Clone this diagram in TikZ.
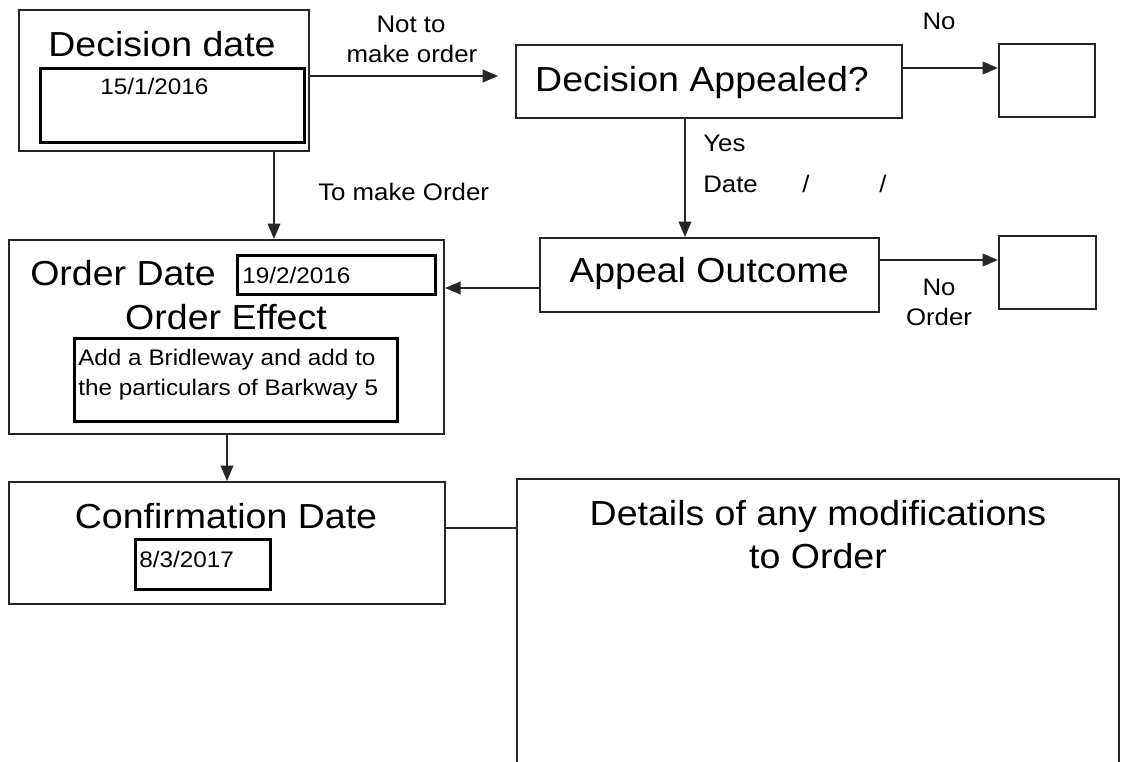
\documentclass[tikz,border=0pt]{standalone}
\usepackage{fontspec}
\setmainfont{Liberation Sans}[FakeStretch=1.08]
\usetikzlibrary{arrows.meta}
\tikzset{
  bx/.style 2 args={minimum width=#1*0.025cm, minimum height=#2*0.025cm},
  obox/.style={draw=black!85, line width=1.5pt, anchor=north west, inner sep=0pt},
  ibox/.style={draw=black, line width=1.9pt, anchor=north west, inner sep=0pt},
  big/.style={font=\fontsize{24.7}{30}\selectfont, inner sep=0pt},
  small/.style={font=\fontsize{17}{21}\selectfont, inner sep=0pt},
  boxtxt/.style={font=\fontsize{16}{20}\selectfont, inner sep=0pt},
  conn/.style={line width=1.3pt, draw=black!85},
  arr/.style={conn, -{Triangle[length=11pt,width=9pt]}},
}
\begin{document}
\begin{tikzpicture}[x=0.025cm, y=-0.025cm]
\useasboundingbox (0,0) rectangle (1121,762);
\clip (0,0) rectangle (1121,762);

% boxes
\node[obox, bx={290}{141}] (dd) at (18,9) {};
\node[ibox, bx={264}{74}] (ddin) at (39,67) {};
\node[obox, bx={386}{73}] (da) at (515,44) {};
\node[obox, bx={96}{73}] (noa) at (998,43) {};
\node[obox, bx={339}{74}] (ao) at (539,237) {};
\node[obox, bx={97}{73}] (nob) at (998,235) {};
\node[obox, bx={435}{194}] (od) at (8,239) {};
\node[ibox, bx={198}{39}] (odin) at (236,254) {};
\node[ibox, bx={323}{83}] (oein) at (73,337) {};
\node[obox, bx={436}{122}] (cd) at (8,481) {};
\node[ibox, bx={135}{50}] (cdin) at (134,538) {};
\node[obox, bx={602}{320}] (det) at (516,478) {};

% texts in boxes
\node[big, anchor=base] (tdd) at (162,57) {Decision date};
\node[boxtxt, anchor=base west] (tddin) at (100,95) {15/1/2016};
\node[big, anchor=base] (tda) at (702,92) {Decision Appealed?};
\node[big, anchor=base] (tao) at (709,282) {Appeal Outcome};
\node[big, anchor=base west] (tod) at (30,285) {Order Date};
\node[boxtxt, anchor=base west] (todin) at (242,283) {19/2/2016};
\node[big, anchor=base] (toe) at (226,329) {Order Effect};
\node[boxtxt, anchor=base west] (toe1) at (78,365) {Add a Bridleway and add to};
\node[boxtxt, anchor=base west] (toe2) at (78,395) {the particulars of Barkway 5};
\node[big, anchor=base] (tcd) at (226,528) {Confirmation Date};
\node[boxtxt, anchor=base west] (tcdin) at (139,567) {8/3/2017};
\node[big, anchor=base] (tdet1) at (818,525) {Details of any modifications};
\node[big, anchor=base] (tdet2) at (818,568) {to Order};

% labels
\node[small, anchor=base] (lnot1) at (411,33) {Not to};
\node[small, anchor=base] (lnot2) at (412,63) {make order};
\node[small, anchor=base west] (lmake) at (318,201) {To make Order};
\node[small, anchor=base] (lno1) at (939,30) {No};
\node[small, anchor=base west] (lyes) at (703,152) {Yes};
\node[small, anchor=base west] (ldate) at (703,192) {Date};
\node[small, anchor=base] (ls1) at (806,192) {/};
\node[small, anchor=base] (ls2) at (883,192) {/};
\node[small, anchor=base] (lno2) at (939,295) {No};
\node[small, anchor=base] (lord) at (939,325) {Order};

% connectors
\coordinate (y1) at (0,76);
\draw[arr, shorten >=12pt] (dd.east |- y1) -- (da.west |- y1);
\coordinate (x1) at (274,0);
\draw[arr] (dd.south -| x1) -- (od.north -| x1);
\coordinate (y2) at (0,68);
\draw[arr] (da.east |- y2) -- (noa.west |- y2);
\coordinate (x2) at (685,0);
\draw[arr] (da.south -| x2) -- (ao.north -| x2);
\coordinate (y3) at (0,260);
\draw[arr] (ao.east |- y3) -- (nob.west |- y3);
\coordinate (y4) at (0,288);
\draw[arr] (ao.west |- y4) -- (od.east |- y4);
\coordinate (x3) at (227,0);
\draw[arr] (od.south -| x3) -- (cd.north -| x3);
\coordinate (y5) at (0,528);
\draw[conn] (cd.east |- y5) -- (det.west |- y5);
\end{tikzpicture}
\end{document}
